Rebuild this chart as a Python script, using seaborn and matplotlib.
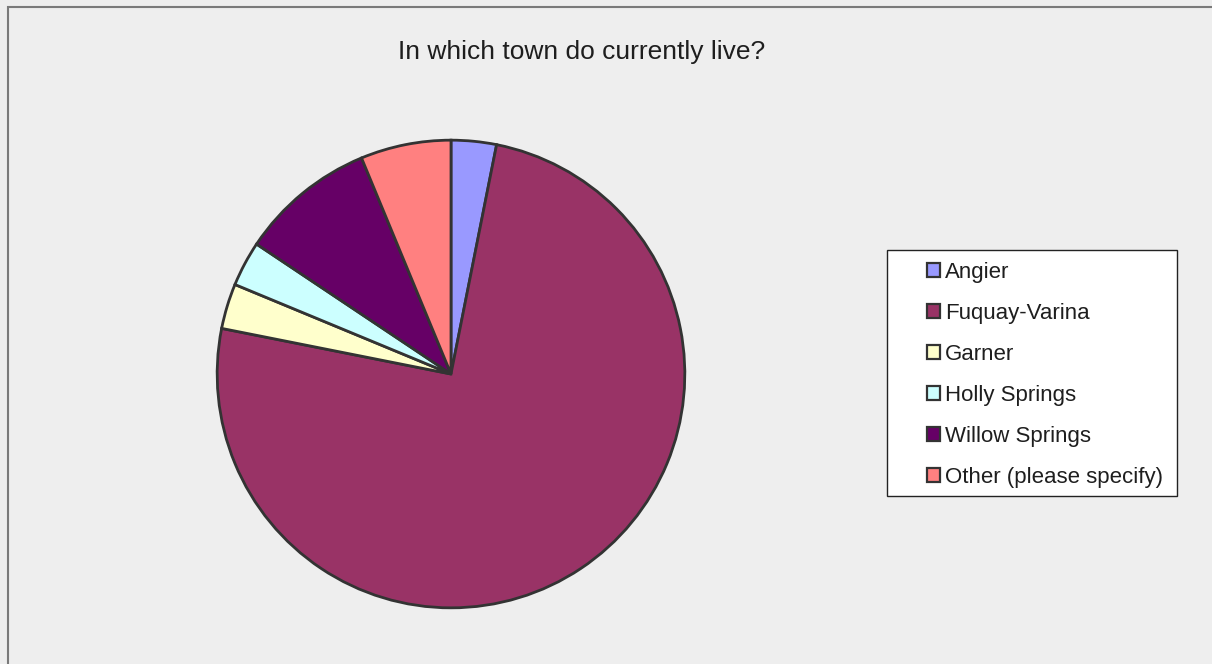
import matplotlib
matplotlib.use("Agg")
import matplotlib.pyplot as plt
from matplotlib.patches import Patch, Rectangle
import seaborn as sns

# Survey responses: "In which town do currently live?"
towns = ["Angier", "Fuquay-Varina", "Garner", "Holly Springs",
         "Willow Springs", "Other (please specify)"]
responses = [1, 24, 1, 1, 3, 2]
slice_colors = ["#9999FF", "#993366", "#FFFFCC", "#CCFFFF", "#660066", "#FF8080"]
title = "In which town do currently live?"

sns.set_theme(style="white")
plt.rcParams["font.family"] = ["Liberation Sans", "DejaVu Sans"]

palette = sns.color_palette(slice_colors)
bg = "#EEEEEE"
edge = "#333333"

W, H = 1212, 664
fig = plt.figure(figsize=(W / 100, H / 100), dpi=100, facecolor=bg)

# chart-area border (top and left edges visible)
fig.patches.append(Rectangle((8 / W, -0.1), 1.2, 1 - 7 / H + 0.1,
                             transform=fig.transFigure, fill=False,
                             edgecolor="#7a7a7a", linewidth=1.5, zorder=0))

# square axes holding the pie
cx, cy, r = 451, 374, 235
ax = fig.add_axes([(cx - r) / W, (H - cy - r) / H, 2 * r / W, 2 * r / H])
ax.set_facecolor(bg)
ax.pie(responses, colors=palette, startangle=90, counterclock=False,
       radius=1.0, wedgeprops=dict(edgecolor=edge, linewidth=2.0))
ax.set_xlim(-1.005, 1.005)
ax.set_ylim(-1.005, 1.005)
ax.set_aspect("equal")
ax.axis("off")

fig.text(582 / W, 1 - 52 / H, title, ha="center", va="center",
         fontsize=19, color="#1e1e1e")

# legend box
lx0, ly0, lx1, ly1 = 887, 250, 1177, 496
fig.patches.append(Rectangle((lx0 / W, 1 - ly1 / H), (lx1 - lx0) / W,
                             (ly1 - ly0) / H, transform=fig.transFigure,
                             facecolor="white", edgecolor="#222222",
                             linewidth=1.0, zorder=1))

handles = [Patch(facecolor=c, edgecolor=edge, linewidth=1.6) for c in palette]
leg = fig.legend(handles, towns, loc="upper left",
                 bbox_to_anchor=(927 / W, 1 - 262 / H),
                 bbox_transform=fig.transFigure, frameon=False,
                 fontsize=16, handlelength=0.6, handleheight=0.6,
                 handletextpad=0.2, labelspacing=0.90, borderpad=0,
                 borderaxespad=0)
for t in leg.get_texts():
    t.set_color("#1e1e1e")
leg.set_zorder(2)

fig.savefig("out.png", dpi=100, facecolor=bg)
